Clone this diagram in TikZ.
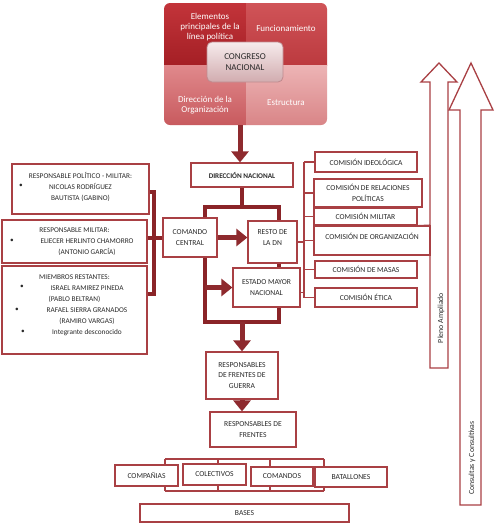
\documentclass[tikz,border=0pt]{standalone}
\usepackage{fontspec}
\setmainfont{Carlito}
\usepackage{tikz}
\usetikzlibrary{arrows.meta,positioning,calc}
\definecolor{boxred}{HTML}{A94044}
\definecolor{linkred}{HTML}{8A2428}
\definecolor{arrred}{HTML}{8E2A2E}
\definecolor{txtgray}{HTML}{2A2A2A}
\definecolor{qtltop}{HTML}{C3343A}
\definecolor{qtlbot}{HTML}{A41F25}
\definecolor{qtrtop}{HTML}{D05458}
\definecolor{qtrbot}{HTML}{BC3A3F}
\definecolor{qbltop}{HTML}{E0898C}
\definecolor{qblbot}{HTML}{C85A5E}
\definecolor{qbrtop}{HTML}{EDB4B5}
\definecolor{qbrbot}{HTML}{D98587}
\definecolor{midtop}{HTML}{F6EBEC}
\definecolor{midbot}{HTML}{D1ACAF}
\definecolor{midline}{HTML}{C08A8E}
\tikzset{
  sz/.style 2 args={minimum width=#1pt,minimum height=#2pt},
  orgbox/.style={draw=boxred,fill=white,line width=1.2pt,align=center,
                 text=txtgray,font=\fontsize{7.6}{10.8}\selectfont,inner sep=1pt},
  leftbox/.style={orgbox,font=\fontsize{7.3}{11}\selectfont},
  bulletmark/.style={text=txtgray,font=\fontsize{7.3}{11}\selectfont,inner sep=0pt},
  centerbox/.style={draw=midline,top color=midtop,bottom color=midbot,line width=0.8pt,
                    rounded corners=5pt,align=center,text=txtgray,
                    font=\fontsize{9}{10.5}\selectfont,inner sep=1pt},
  quadtext/.style={text=white,align=center,font=\fontsize{9}{10}\selectfont},
  thickline/.style={draw=linkred,line width=4pt,line join=miter},
  blockarr/.style={-{Triangle[length=11pt,width=17pt]},draw=arrred,line width=5pt},
  thinline/.style={draw=boxred,line width=1.1pt},
  bigarr/.style={draw=boxred,fill=white,line width=1.3pt,line join=miter},
  sidetext/.style={rotate=90,text=txtgray,font=\fontsize{7.8}{9}\selectfont}
}

\begin{document}
\begin{tikzpicture}[x=1pt,y=-1pt]
  \fill[white] (0,0) rectangle (495,523);
  \useasboundingbox (0,0) rectangle (495,523);

  % congreso block
  \begin{scope}
    \clip[rounded corners=6pt] (164,3) rectangle (327,125);
    \shade[top color=qtltop,bottom color=qtlbot] (164,3) rectangle (246,65);
    \shade[top color=qtrtop,bottom color=qtrbot] (246,3) rectangle (327,65);
    \shade[top color=qbltop,bottom color=qblbot] (164,65) rectangle (246,125);
    \shade[top color=qbrtop,bottom color=qbrbot] (246,65) rectangle (327,125);
  \end{scope}
  \node[quadtext] (qtl) at (210,27) {Elementos\\principales de la\\línea política};
  \node[quadtext] (qtr) at (286,28) {Funcionamiento};
  \node[quadtext] (qbl) at (205,105) {Dirección de la\\Organización};
  \node[quadtext] (qbr) at (286,103) {Estructura};
  \node[centerbox,sz={76}{40}] (congreso) at (245,62) {CONGRESO\\NACIONAL};
  \coordinate (cbot) at (240,125);

  % side arrows
  \draw[bigarr] (430,368) -- (430,82) -- (421,82) -- (439,63) -- (457,82)
    -- (448,82) -- (448,368) -- cycle;
  \draw[bigarr] (460,505) -- (460,110) -- (449,110) -- (471,63) -- (493,110)
    -- (481,110) -- (481,505) -- cycle;
  \node[sidetext] (pleno) at (441,318) {Pleno Ampliado};
  \node[sidetext] (consultas) at (472,458) {Consultas y Consultivas};
  \coordinate (plenoleft) at (430,225);

  % central column
  \node[orgbox,sz={102}{24},font=\bfseries\fontsize{7.2}{9}\selectfont] (dn) at (242,175) {DIRECCIÓN NACIONAL};
  \node[orgbox,sz={54}{39}] (comando) at (190,237.5) {COMANDO\\CENTRAL};
  \node[orgbox,sz={49}{42}] (resto) at (272.5,242) {RESTO DE\\LA DN\\[-2pt]\mbox{}};
  \node[orgbox,sz={67}{39}] (estado) at (266.5,287.5) {ESTADO MAYOR\\NACIONAL};
  \node[orgbox,sz={72}{47}] (guerra) at (242,375.5) {RESPONSABLES\\DE FRENTES DE\\GUERRA};
  \node[orgbox,sz={86}{35}] (frentes) at (253,429.5) {RESPONSABLES DE\\FRENTES};

  % left boxes
  \node[leftbox,sz={137}{50}] (rpm) at (80.5,189) {RESPONSABLE POLÍTICO - MILITAR:\\NICOLAS RODRÍGUEZ\\BAUTISTA (GABINO)\\[-6pt]\mbox{}};
  \node[leftbox,sz={145}{43}] (rmil) at (74.5,241.5) {RESPONSABLE MILITAR:\\\hspace*{25pt}ELIECER HERLINTO CHAMORRO\\\hspace*{25pt}(ANTONIO GARCÍA)};
  \node[leftbox,sz={145}{88}] (miembros) at (74.5,310) {MIEMBROS RESTANTES:\\\hspace*{25pt}ISRAEL RAMIREZ PINEDA\\(PABLO BELTRAN)\\\hspace*{25pt}RAFAEL SIERRA GRANADOS\\\hspace*{25pt}(RAMIRO VARGAS)\\\hspace*{25pt}Integrante desconocido\\\mbox{}};
  \foreach \bx/\by [count=\i] in {21/186,12/241,22/287,17/310,23/332}
    \node[bulletmark] (bul\i) at (\bx,\by) {•};

  % comisiones
  \node[orgbox,sz={102}{20}] (cideo) at (366,162) {COMISIÓN IDEOLÓGICA};
  \node[orgbox,sz={108}{28}] (crel) at (368,193) {COMISIÓN DE RELACIONES\\POLÍTICAS};
  \node[orgbox,sz={103}{17}] (cmil) at (365.5,216.5) {COMISIÓN MILITAR};
  \node[orgbox,sz={116}{29}] (corg) at (372,240.5) {COMISIÓN DE ORGANIZACIÓN\\[-2pt]\mbox{}};
  \node[orgbox,sz={102}{17}] (cmasas) at (366,269.5) {COMISIÓN DE MASAS};
  \node[orgbox,sz={102}{19}] (cetica) at (366,297.5) {COMISIÓN ÉTICA};

  % bottom row
  \node[orgbox,sz={63}{21}] (compania) at (146.5,475.5) {COMPAÑIAS};
  \node[orgbox,sz={63}{21}] (colectivos) at (214.5,474.5) {COLECTIVOS};
  \node[orgbox,sz={62}{19}] (comandos) at (282,476.5) {COMANDOS};
  \node[orgbox,sz={72}{20}] (batallones) at (351,477) {BATALLONES};
  \node[orgbox,sz={209}{18}] (bases) at (244.5,513) {BASES};

  % thick connectors
  \coordinate (sl) at (205,207);
  \coordinate (sr) at (279,207);
  \coordinate (ml) at (205,322);
  \coordinate (mr) at (279,322);
  \draw[blockarr] (cbot) -- (cbot |- dn.north);
  \draw[thickline] (dn.south) -- (dn.south |- sl);
  \draw[thickline] (sl |- comando.north) -- (sl) -- (sr) -- (sr |- resto.north);
  \draw[blockarr] (comando.east) -- (comando.east -| resto.west);
  \draw[thickline] (sr |- resto.south) -- (sr |- estado.north);
  \draw[thickline] (sl |- comando.south) -- (ml) -- (mr) -- (mr |- estado.south);
  \draw[blockarr] (ml |- estado.west) -- (estado.west);
  \draw[blockarr] (dn.south |- ml) -- (guerra.north);
  \draw[blockarr] (guerra.south) -- (guerra.south |- frentes.north);

  % left bracket
  \coordinate (lj) at (154,238);
  \draw[thickline] ([yshift=-3pt]rpm.east) -| (lj) |- ([yshift=16pt]miembros.east);
  \draw[thickline] (lj -| rmil.east) -- (lj -| comando.west);

  % comisiones bracket
  \coordinate (cv) at (304,0);
  \draw[thinline] (cideo.west -| cv) -- (cetica.west -| cv);
  \foreach \c in {cideo,crel,cmil,corg,cmasas,cetica}
    \draw[thinline] (\c.west -| cv) -- (\c.west);
  \draw[thinline] (resto.east) -- (resto.east -| cv);
  \draw[thinline] ([yshift=-5pt]estado.east) -- ([yshift=-5pt]estado.east -| cv);
  \draw[thinline] (cmil.south east) -- (plenoleft);

  % bottom brackets
  \coordinate (ftl) at (165,459);
  \coordinate (ftr) at (324,459);
  \coordinate (fbl) at (165,491);
  \coordinate (fbr) at (324,491);
  \draw[thinline] (ftl) -- (ftr);
  \draw[thinline] (fbl) -- (fbr);
  \foreach \n/\x in {compania/165,colectivos/218,comandos/270,batallones/324} {
    \draw[thinline] (ftl -| \x,0) -- (\n.north -| \x,0);
    \draw[thinline] (\n.south -| \x,0) -- (fbl -| \x,0);
  }
\end{tikzpicture}
\end{document}
